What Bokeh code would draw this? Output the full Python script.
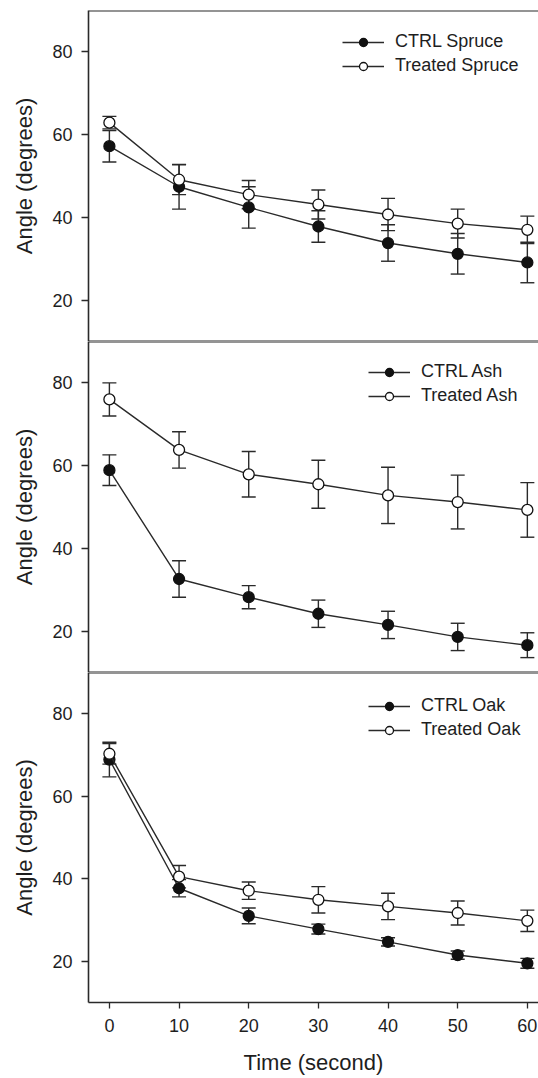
from bokeh.plotting import figure
from bokeh.layouts import column
from bokeh.models import (ColumnDataSource, Whisker, TeeHead, Span, Legend,
                          LegendItem, FixedTicker, Range1d)
from bokeh.embed import file_html
from bokeh.resources import INLINE

# ---------------- data ----------------
time_s = [0, 10, 20, 30, 40, 50, 60]
x_ticks = [0, 10, 20, 30, 40, 50, 60]
y_ticks = [20, 40, 60, 80]

ctrl_spruce = [57.2, 47.4, 42.4, 37.8, 33.8, 31.2, 29.1]
ctrl_spruce_err = [3.8, 5.4, 5.0, 3.8, 4.4, 4.9, 4.9]
treated_spruce = [62.9, 49.1, 45.5, 43.1, 40.7, 38.5, 37.0]
treated_spruce_err = [1.5, 3.6, 3.4, 3.5, 3.9, 3.5, 3.3]

ctrl_ash = [58.9, 32.6, 28.2, 24.2, 21.5, 18.6, 16.6]
ctrl_ash_err = [3.7, 4.4, 2.8, 3.3, 3.3, 3.3, 3.0]
treated_ash = [76.0, 63.8, 57.9, 55.5, 52.8, 51.2, 49.3]
treated_ash_err = [4.0, 4.4, 5.5, 5.8, 6.8, 6.5, 6.6]

ctrl_oak = [68.9, 37.7, 31.0, 27.8, 24.7, 21.5, 19.5]
ctrl_oak_err = [4.2, 2.1, 1.9, 1.2, 1.0, 1.0, 1.2]
treated_oak = [70.3, 40.5, 37.1, 34.9, 33.3, 31.7, 29.8]
treated_oak_err = [2.5, 2.7, 2.1, 3.2, 3.2, 2.9, 2.6]

FONT = "Liberation Sans"
LINE = "#2a2a2a"
TEXT = "#1e1e1e"


def make_panel(ctrl, ctrl_err, treat, treat_err, labels, height, top, bottom,
               show_x, legend_loc):
    p = figure(width=538, height=height, x_range=Range1d(-3, 61.6),
               y_range=Range1d(10, 90), output_backend="svg",
               toolbar_location=None,
               x_axis_location="below" if show_x else None,
               min_border=0, min_border_left=88, min_border_right=0,
               min_border_top=top, min_border_bottom=bottom)
    p.outline_line_color = None
    p.grid.visible = False
    p.background_fill_color = "white"
    p.border_fill_color = "white"

    # y axis
    p.yaxis.ticker = FixedTicker(ticks=y_ticks)
    p.yaxis.minor_tick_line_color = None
    p.yaxis.major_tick_in = 0
    p.yaxis.major_tick_out = 7
    p.yaxis.major_tick_line_color = LINE
    p.yaxis.major_tick_line_width = 1.3
    p.yaxis.axis_line_color = LINE
    p.yaxis.axis_line_width = 1.6
    p.yaxis.major_label_standoff = 9
    p.yaxis.major_label_text_font = FONT
    p.yaxis.major_label_text_font_size = "18px"
    p.yaxis.major_label_text_color = TEXT
    p.yaxis.axis_label = "Angle (degrees)"
    p.yaxis.axis_label_text_font = FONT
    p.yaxis.axis_label_text_font_size = "22px"
    p.yaxis.axis_label_text_font_style = "normal"
    p.yaxis.axis_label_text_color = TEXT
    p.yaxis.axis_label_standoff = 12

    if show_x:
        p.xaxis.ticker = FixedTicker(ticks=x_ticks)
        p.xaxis.minor_tick_line_color = None
        p.xaxis.major_tick_in = 0
        p.xaxis.major_tick_out = 6
        p.xaxis.major_tick_line_color = LINE
        p.xaxis.major_tick_line_width = 1.3
        p.xaxis.axis_line_color = LINE
        p.xaxis.axis_line_width = 1.6
        p.xaxis.major_label_standoff = 10
        p.xaxis.major_label_text_font = FONT
        p.xaxis.major_label_text_font_size = "18px"
        p.xaxis.major_label_text_color = TEXT
        p.xaxis.axis_label = "Time (second)"
        p.xaxis.axis_label_text_font = FONT
        p.xaxis.axis_label_text_font_size = "22px"
        p.xaxis.axis_label_text_font_style = "normal"
        p.xaxis.axis_label_text_color = TEXT
        p.xaxis.axis_label_standoff = 15

    # frame lines (top / bottom), no right edge as in reference
    p.add_layout(Span(location=90, dimension="width", line_color=LINE,
                      line_width=2))
    if not show_x:
        p.add_layout(Span(location=10, dimension="width", line_color=LINE,
                          line_width=2))

    renderers = []
    for vals, errs, fill in ((ctrl, ctrl_err, "#111111"),
                             (treat, treat_err, "white")):
        src = ColumnDataSource(dict(
            x=time_s, y=vals,
            upper=[v + e for v, e in zip(vals, errs)],
            lower=[v - e for v, e in zip(vals, errs)]))
        w = Whisker(source=src, base="x", upper="upper", lower="lower",
                    line_color=LINE, line_width=1.4, level="underlay",
                    upper_head=TeeHead(size=14, line_color=LINE, line_width=1.4),
                    lower_head=TeeHead(size=14, line_color=LINE, line_width=1.4))
        p.add_layout(w)
        ln = p.line("x", "y", source=src, line_color=LINE, line_width=1.4)
        sc = p.scatter("x", "y", source=src, size=11, marker="circle",
                       fill_color=fill, line_color="#111111", line_width=1.3)
        renderers.append((ln, sc))

    legend = Legend(items=[LegendItem(label=labels[0], renderers=list(renderers[0])),
                           LegendItem(label=labels[1], renderers=list(renderers[1]))],
                    location=legend_loc, border_line_color=None,
                    background_fill_alpha=0, padding=0, margin=0, spacing=3,
                    glyph_width=42, glyph_height=20, label_height=20,
                    label_standoff=11, label_text_font=FONT,
                    label_text_font_size="18px", label_text_color=TEXT)
    p.add_layout(legend)
    return p


p1 = make_panel(ctrl_spruce, ctrl_spruce_err, treated_spruce, treated_spruce_err,
                ["CTRL Spruce", "Treated Spruce"], 341, 10, 0, False, (254, 265))
p2 = make_panel(ctrl_ash, ctrl_ash_err, treated_ash, treated_ash_err,
                ["CTRL Ash", "Treated Ash"], 331, 0, 0, False, (280, 266))
p3 = make_panel(ctrl_oak, ctrl_oak_err, treated_oak, treated_oak_err,
                ["CTRL Oak", "Treated Oak"], 406, 0, 76, True, (280, 262))

layout = column(p1, p2, p3, spacing=0)
open("out.html", "w").write(file_html(layout, INLINE))
